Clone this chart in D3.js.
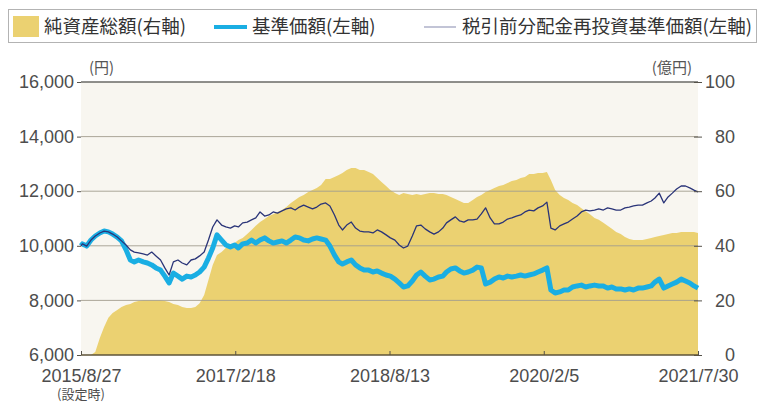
<!DOCTYPE html>
<html>
<head>
<meta charset="utf-8">
<script src="https://cdn.jsdelivr.net/npm/d3@7"></script>
<style>
  body { margin: 0; background: #fff; }
  svg { display: block; font-family: "Liberation Sans", Arial, sans-serif; }
  .jp { font-family: "Noto Sans CJK JP", sans-serif; }
</style>
</head>
<body>
<div id="chart"></div>
<script>
// sampling: launch day, then 1st and 16th of every month, then the last day
const startDate = "2015-08-27";
const endDate = "2021-07-30";

// 基準価額 (yen), left axis
const navBase = [
  10000,
  10070, 9990, 10210, 10360, 10470, 10540, 10510, 10430,                       // 2015 9-12
  10320, 10180, 9850, 9480, 9410, 9480, 9410, 9370, 9300, 9190, 9110, 8890,
  8640, 9000, 8890, 8780, 8890, 8860, 8930, 9040, 9220, 9550, 9920, 10400,     // 2016
  10210, 10030, 9960, 10030, 9920, 10070, 10100, 10210, 10100, 10210, 10290, 10180,
  10100, 10140, 10180, 10100, 10210, 10320, 10290, 10210, 10180, 10250, 10290, 10250, // 2017
  10210, 9990, 9660, 9410, 9330, 9410, 9480, 9300, 9190, 9110, 9110, 9040,
  9080, 9000, 8930, 8890, 8780, 8640, 8490, 8530, 8710, 8930, 9040, 8890,      // 2018
  8750, 8780, 8860, 8890, 9040, 9150, 9190, 9080, 9000, 9040, 9110, 9220,
  9190, 8600, 8670, 8780, 8860, 8820, 8890, 8860, 8890, 8930, 8890, 8930,      // 2019
  8970, 9040, 9110, 9190, 8380, 8270, 8310, 8380, 8380, 8490, 8530, 8560,
  8490, 8530, 8560, 8530, 8530, 8450, 8490, 8420, 8420, 8380, 8420, 8380,      // 2020
  8450, 8450, 8490, 8530, 8670, 8780, 8450, 8530, 8600, 8670, 8780, 8710,
  8640, 8530,                                                                   // 2021 1-7
  8450
];

// 税引前分配金再投資基準価額 (yen), left axis
const navReinvest = [
  10000,
  10070, 9990, 10210, 10360, 10470, 10540, 10510, 10430,
  10320, 10180, 10030, 9850, 9770, 9740, 9700, 9660, 9770, 9630, 9480, 9190,
  8930, 9410, 9480, 9370, 9300, 9480, 9520, 9630, 9770, 10210, 10690, 10950,
  10760, 10690, 10650, 10730, 10690, 10840, 10870, 10950, 11020, 11240, 11090, 11130,
  11240, 11200, 11280, 11350, 11390, 11310, 11420, 11490, 11420, 11350, 11420, 11530,
  11570, 11460, 11130, 10760, 10580, 10760, 10870, 10650, 10540, 10510, 10510, 10470,
  10580, 10510, 10400, 10290, 10210, 10030, 9920, 9990, 10360, 10730, 10760, 10620,
  10510, 10430, 10510, 10650, 10840, 10950, 11060, 10910, 10870, 10950, 10950, 10980,
  11170, 11390, 11020, 10800, 10800, 10870, 10980, 11020, 11090, 11130, 11240, 11310,
  11280, 11390, 11460, 11600, 10650, 10580, 10730, 10800, 10870, 10980, 11090, 11240,
  11310, 11280, 11310, 11350, 11310, 11390, 11350, 11310, 11310, 11390, 11420, 11460,
  11490, 11490, 11570, 11640, 11750, 11930, 11570, 11790, 11930, 12080, 12190, 12190,
  12120, 12040,
  11970
];

// 純資産総額 (億円), right axis
const netAssets = [
  0,
  0, 0, 0, 1.1, 6.2, 10.3, 13.6, 15.4,
  16.5, 17.6, 18.3, 18.7, 19.4, 19.8, 20.1, 20.1, 20.1, 20.1, 20.1, 19.8,
  19.4, 18.7, 18.3, 17.6, 17.2, 17.2, 17.6, 19.0, 22.0, 27.5, 33.0, 36.6,
  37.7, 39.2, 40.3, 41.0, 42.1, 42.9, 44.3, 45.8, 47.3, 48.7, 49.8, 50.9,
  51.6, 52.4, 53.1, 54.2, 55.7, 56.8, 57.9, 58.6, 59.7, 60.4, 61.2, 62.3,
  64.5, 64.5, 65.2, 65.9, 66.7, 67.8, 68.5, 68.5, 67.8, 67.8, 67.0, 66.3,
  64.8, 63.4, 61.9, 60.4, 59.3, 58.6, 59.3, 59.0, 58.6, 59.0, 58.6, 59.0,
  59.3, 59.3, 59.0, 59.0, 58.6, 57.9, 57.1, 56.4, 55.7, 55.7, 56.8, 57.9,
  58.6, 59.7, 60.4, 61.2, 61.9, 62.3, 63.0, 63.7, 64.1, 64.8, 65.2, 66.3,
  66.3, 66.7, 66.7, 67.0, 64.1, 60.4, 58.6, 57.5, 56.8, 55.7, 54.9, 53.8,
  52.7, 51.6, 50.2, 49.5, 48.4, 47.3, 46.2, 45.1, 44.3, 43.2, 42.5, 42.1,
  42.1, 42.1, 42.5, 42.9, 43.2, 43.6, 44.0, 44.3, 44.7, 44.7, 45.1, 45.1,
  45.1, 45.1,
  44.7
];

const leftTicks = [6000, 8000, 10000, 12000, 14000, 16000];
const rightTicks = [0, 20, 40, 60, 80, 100];
const dateTicks = ["2015-08-27", "2017-02-18", "2018-08-13", "2020-02-05", "2021-07-30"];

const legendLabels = ["純資産総額(右軸)", "基準価額(左軸)", "税引前分配金再投資基準価額(左軸)"];

(function() {
  const W = 760, H = 405;
  const margin = {left: 81, right: 62, top: 82, bottom: 50};

  const parse = d3.utcParse("%Y-%m-%d");
  const dates = [parse(startDate)];
  d3.utcMonth.range(parse("2015-09-01"), parse("2021-08-01")).forEach(function(m) {
    dates.push(m, d3.utcDay.offset(m, 15));
  });
  dates.push(parse(endDate));

  const rows = dates.map(function(d, i) {
    return {date: d, base: navBase[i], re: navReinvest[i], assets: netAssets[i]};
  });

  const svg = d3.select("#chart").append("svg")
    .attr("width", W).attr("height", H);

  const x = d3.scaleUtc()
    .domain([parse(startDate), parse(endDate)])
    .range([margin.left, W - margin.right]);
  const yL = d3.scaleLinear().domain([6000, 16000]).range([H - margin.bottom, margin.top]);
  const yR = d3.scaleLinear().domain([0, 100]).range([H - margin.bottom, margin.top]);

  // plot background
  svg.append("rect")
    .attr("x", x.range()[0]).attr("y", margin.top)
    .attr("width", x.range()[1] - x.range()[0])
    .attr("height", H - margin.bottom - margin.top)
    .attr("fill", "#f8f6f0");

  // net assets area
  const area = d3.area()
    .x(d => x(d.date))
    .y0(yR(0))
    .y1(d => yR(d.assets));
  svg.append("path")
    .datum(rows)
    .attr("d", area)
    .attr("fill", "#ebd171");

  // grid lines
  svg.append("g").selectAll("line")
    .data(leftTicks.slice(1))
    .enter().append("line")
    .attr("x1", x.range()[0]).attr("x2", x.range()[1])
    .attr("y1", d => yL(d)).attr("y2", d => yL(d))
    .attr("stroke", d => d === 16000 ? "#6a6a66" : "#a39d8e")
    .attr("stroke-width", d => d === 16000 ? 1.3 : 0.9);

  const line = function(key) {
    return d3.line().x(d => x(d.date)).y(d => yL(d[key]));
  };

  svg.append("path")
    .datum(rows)
    .attr("d", line("base"))
    .attr("fill", "none")
    .attr("stroke", "#1aaee3")
    .attr("stroke-width", 5)
    .attr("stroke-linejoin", "round");

  svg.append("path")
    .datum(rows)
    .attr("d", line("re"))
    .attr("fill", "none")
    .attr("stroke", "#2a3478")
    .attr("stroke-width", 1.3)
    .attr("stroke-linejoin", "round");

  // axes
  const axL = svg.append("g")
    .attr("transform", "translate(" + x.range()[0] + ",0)")
    .call(d3.axisLeft(yL).tickValues(leftTicks).tickFormat(d3.format(",")).tickSize(4).tickPadding(3));
  const axR = svg.append("g")
    .attr("transform", "translate(" + x.range()[1] + ",0)")
    .call(d3.axisRight(yR).tickValues(rightTicks).tickSize(0).tickPadding(37));
  axR.selectAll(".tick text").attr("text-anchor", "end");
  axR.selectAll(".tick").append("line")
    .attr("x1", -4).attr("x2", 4).attr("stroke", "#55524a");

  const fmt = d3.utcFormat("%Y/%-m/%-d");
  const axB = svg.append("g")
    .attr("transform", "translate(0," + yL(6000) + ")")
    .call(d3.axisBottom(x).tickValues(dateTicks.map(parse)).tickFormat(fmt).tickSizeInner(-4).tickSizeOuter(0).tickPadding(14));

  [axL, axR, axB].forEach(function(g) {
    g.select(".domain").remove();
    g.selectAll(".tick text")
      .attr("font-size", 18)
      .attr("font-family", "Liberation Sans, Arial, sans-serif")
      .attr("fill", "#4d4d4d");
    g.selectAll(".tick line").attr("stroke", "#55524a");
  });
  axB.selectAll(".tick text").attr("dy", "0.71em");

  // launch-date note under the first date label
  svg.append("text").attr("class", "jp")
    .attr("x", x(parse(startDate))).attr("y", 399)
    .attr("text-anchor", "middle")
    .attr("font-size", 13).attr("fill", "#4d4d4d")
    .text("(設定時)");

  // bottom axis line
  svg.append("line")
    .attr("x1", x.range()[0]).attr("x2", x.range()[1])
    .attr("y1", yL(6000)).attr("y2", yL(6000))
    .attr("stroke", "#5e5339").attr("stroke-width", 1.5);

  // unit labels
  svg.append("text").attr("class", "jp")
    .attr("x", 89).attr("y", 73)
    .attr("font-size", 15).attr("fill", "#555")
    .text("(円)");
  svg.append("text").attr("class", "jp")
    .attr("x", 692).attr("y", 73)
    .attr("text-anchor", "end")
    .attr("font-size", 15).attr("fill", "#555")
    .text("(億円)");

  // legend
  const lg = svg.append("g");
  lg.append("rect")
    .attr("x", 8.5).attr("y", 9.5).attr("width", 748).attr("height", 33)
    .attr("fill", "#fff").attr("stroke", "#b3b3b3");
  lg.append("rect")
    .attr("x", 13).attr("y", 16).attr("width", 26).attr("height", 21)
    .attr("fill", "#ebd171");
  lg.append("line")
    .attr("x1", 214).attr("x2", 247).attr("y1", 27).attr("y2", 27)
    .attr("stroke", "#1aaee3").attr("stroke-width", 4);
  lg.append("line")
    .attr("x1", 424).attr("x2", 456).attr("y1", 27).attr("y2", 27)
    .attr("stroke", "#aeb0c8").attr("stroke-width", 1.5);
  const legendX = [44, 252, 462];
  lg.selectAll("text.lab")
    .data(legendLabels)
    .enter().append("text")
    .attr("class", "lab jp")
    .attr("x", (d, i) => legendX[i])
    .attr("y", 33)
    .attr("font-size", 18.5)
    .attr("fill", "#333")
    .text(d => d);
})();
</script>
</body>
</html>
